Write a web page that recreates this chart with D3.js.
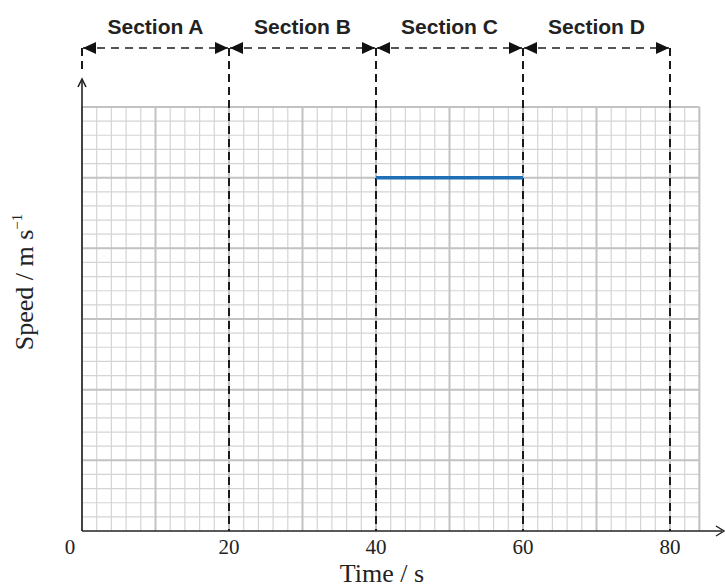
<!DOCTYPE html>
<html>
<head>
<meta charset="utf-8">
<script src="https://cdn.jsdelivr.net/npm/d3@7"></script>
<style>
  body { margin: 0; background: #fff; }
  svg { display: block; }
</style>
</head>
<body>
<div id="chart"></div>
<script>
// chart values
const sectionNames = ['Section A', 'Section B', 'Section C', 'Section D'];
const sectionBounds = [0, 20, 40, 60, 80];
const xTicks = [0, 20, 40, 60, 80];
const lineTimes = [40, 60];
const lineSpeeds = [5, 5];

const WIDTH = 725, HEIGHT = 588;
const GRID = { xMax: 84, yMax: 6, xMinor: 2, xMajor: 10, yMinor: 0.2, yMajor: 1 };

var xScale = d3.scaleLinear().domain([0, GRID.xMax]).range([82, 699.4]);
var yScale = d3.scaleLinear().domain([0, GRID.yMax]).range([531, 107]);

const svg = d3.select('#chart').append('svg')
  .attr('width', WIDTH)
  .attr('height', HEIGHT);

const defs = svg.append('defs');
defs.append('marker')
  .attr('id', 'tri')
  .attr('viewBox', '0 0 13 12')
  .attr('refX', 13).attr('refY', 6)
  .attr('markerWidth', 13).attr('markerHeight', 12)
  .attr('markerUnits', 'userSpaceOnUse')
  .attr('orient', 'auto-start-reverse')
  .append('path')
    .attr('d', 'M0,0L13,6L0,12Z')
    .attr('fill', '#111');

// Grid: minor then major
let xs = d3.range(0, GRID.xMax + 0.001, GRID.xMinor);
let ys = d3.range(0, GRID.yMax + 0.001, GRID.yMinor);
const grid = svg.append('g');
grid.selectAll('.vminor')
    .data(xs.filter(d => d % GRID.xMajor !== 0))
  .enter().append('line')
    .attr('x1', d => xScale(d)).attr('x2', d => xScale(d))
    .attr('y1', yScale(0)).attr('y2', yScale(GRID.yMax))
    .attr('stroke', '#d4d4d4').attr('stroke-width', 1.2);
grid.selectAll('.hminor')
    .data(ys.filter(d => Math.abs(d - Math.round(d)) > 0.01))
  .enter().append('line')
    .attr('x1', xScale(0)).attr('x2', xScale(GRID.xMax))
    .attr('y1', d => yScale(d)).attr('y2', d => yScale(d))
    .attr('stroke', '#d4d4d4').attr('stroke-width', 1.2);
grid.selectAll('.vmajor')
    .data(xs.filter(d => d % GRID.xMajor === 0).concat([GRID.xMax]))
  .enter().append('line')
    .attr('x1', d => xScale(d)).attr('x2', d => xScale(d))
    .attr('y1', yScale(0)).attr('y2', yScale(GRID.yMax))
    .attr('stroke', '#c2c2c2').attr('stroke-width', 2);
grid.selectAll('.hmajor')
    .data(d3.range(1, GRID.yMax + 1))
  .enter().append('line')
    .attr('x1', xScale(0)).attr('x2', xScale(GRID.xMax))
    .attr('y1', d => yScale(d)).attr('y2', d => yScale(d))
    .attr('stroke', '#c2c2c2').attr('stroke-width', 2);

// Axes
svg.append('line')
  .attr('x1', xScale(0)).attr('y1', yScale(0))
  .attr('x2', 722).attr('y2', yScale(0))
  .attr('stroke', '#222').attr('stroke-width', 1.6);
svg.append('path')
  .attr('d', `M716,${yScale(0) - 5}L724,${yScale(0)}L716,${yScale(0) + 5}`)
  .attr('fill', 'none').attr('stroke', '#222').attr('stroke-width', 1.4);
svg.append('line')
  .attr('x1', xScale(0)).attr('y1', yScale(0))
  .attr('x2', xScale(0)).attr('y2', 79)
  .attr('stroke', '#222').attr('stroke-width', 1.6);
svg.append('path')
  .attr('d', `M${xScale(0) - 4},87L${xScale(0)},79L${xScale(0) + 4},87`)
  .attr('fill', 'none').attr('stroke', '#222').attr('stroke-width', 1.6);

// Section boundaries
const ARROW_Y = 48;
svg.selectAll('.bound')
    .data(sectionBounds)
  .enter().append('line')
    .attr('x1', d => xScale(d)).attr('x2', d => xScale(d))
    .attr('y1', ARROW_Y)
    .attr('y2', d => d === 0 ? 74 : yScale(0))
    .attr('stroke', '#1a1a1a').attr('stroke-width', 2)
    .attr('stroke-dasharray', '8,5');

svg.selectAll('.span')
    .data(sectionNames)
  .enter().append('line')
    .attr('x1', (d, i) => xScale(sectionBounds[i]) + 1)
    .attr('x2', (d, i) => xScale(sectionBounds[i + 1]) - 1)
    .attr('y1', ARROW_Y).attr('y2', ARROW_Y)
    .attr('stroke', '#555').attr('stroke-width', 2)
    .attr('stroke-dasharray', '8,6')
    .attr('marker-start', 'url(#tri)')
    .attr('marker-end', 'url(#tri)');

svg.selectAll('.sectionLabel')
    .data(sectionNames)
  .enter().append('text')
    .text(d => d)
    .attr('x', (d, i) => xScale((sectionBounds[i] + sectionBounds[i + 1]) / 2))
    .attr('y', 34)
    .attr('text-anchor', 'middle')
    .attr('font-family', 'Liberation Sans, Arial, sans-serif')
    .attr('font-weight', 'bold')
    .attr('font-size', 21)
    .attr('fill', '#222');

// Data line
svg.append('path')
  .datum(lineTimes.map((t, i) => [t, lineSpeeds[i]]))
  .attr('d', d3.line().x(d => xScale(d[0])).y(d => yScale(d[1])))
  .attr('fill', 'none')
  .attr('stroke', '#1f6fb5')
  .attr('stroke-width', 3.5);

// Tick labels
svg.selectAll('.tick')
    .data(xTicks)
  .enter().append('text')
    .text(d => d)
    .attr('x', d => d === 0 ? xScale(d) - 12 : xScale(d))
    .attr('y', 554)
    .attr('text-anchor', 'middle')
    .attr('font-family', 'Liberation Serif, Times New Roman, serif')
    .attr('font-size', 21)
    .attr('fill', '#222');

svg.append('text')
  .text('Time / s')
  .attr('x', 382).attr('y', 582)
  .attr('text-anchor', 'middle')
  .attr('font-family', 'Liberation Serif, Times New Roman, serif')
  .attr('font-size', 26)
  .attr('fill', '#222');

const ylab = svg.append('text')
  .attr('transform', 'translate(33,282) rotate(-90)')
  .attr('text-anchor', 'middle')
  .attr('font-family', 'Liberation Serif, Times New Roman, serif')
  .attr('font-size', 26)
  .attr('fill', '#222');
ylab.append('tspan').text('Speed / m s');
ylab.append('tspan').text('\u22121').attr('font-size', 15).attr('dy', -11);
</script>
</body>
</html>
